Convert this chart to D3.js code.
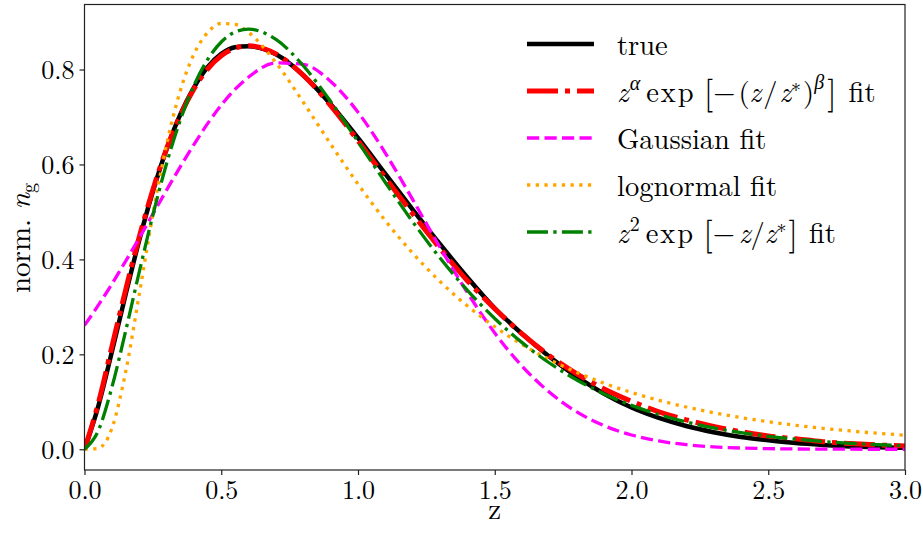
<!DOCTYPE html>
<html><head><meta charset="utf-8">
<script src="https://cdn.jsdelivr.net/npm/d3@7"></script>
<style>html,body{margin:0;padding:0;background:#fff;}</style></head>
<body><svg id="c" width="923" height="533"></svg>
<script>
// ---- data ----
const zGrid = [0,0.05,0.1,0.15,0.2,0.25,0.3,0.35,0.4,0.45,0.5,0.55,0.6,0.7,0.8,0.9,1.0,1.1,1.2,1.3,1.4,1.5,1.6,1.7,1.8,1.9,2.0,2.1,2.2,2.3,2.4,2.5,2.6,2.7,2.8,2.9,3.0];
const trueVals = [0,0.09,0.205,0.325,0.44,0.543,0.632,0.705,0.762,0.805,0.833,0.847,0.849,0.832,0.788,0.727,0.656,0.58,0.505,0.432,0.362,0.297,0.243,0.195,0.153,0.117,0.088,0.066,0.049,0.036,0.026,0.019,0.013,0.009,0.006,0.004,0.003];
const smailVals = [0,0.096,0.216,0.335,0.447,0.547,0.633,0.703,0.759,0.801,0.829,0.845,0.85,0.833,0.788,0.724,0.650,0.572,0.496,0.423,0.355,0.296,0.243,0.197,0.159,0.127,0.101,0.079,0.062,0.048,0.037,0.028,0.022,0.016,0.012,0.009,0.007];
const gaussVals = [0.261,0.303,0.348,0.396,0.445,0.4955,0.546,0.595,0.642,0.686,0.725,0.758,0.784,0.814,0.811,0.775,0.710,0.624,0.526,0.425,0.330,0.245,0.175,0.120,0.0787,0.0496,0.030,0.0174,0.0096,0.0051,0.0026,0.0013,0.0006,0.0003,0.0001,0,0];
const lognVals = [0,0.002,0.0439,0.1615,0.3259,0.4951,0.642,0.7549,0.8324,0.8778,0.897,0.8953,0.8782,0.8143,0.731,0.643,0.5586,0.4815,0.413,0.3534,0.302,0.2581,0.2207,0.1889,0.162,0.139,0.1196,0.1031,0.089,0.077,0.0668,0.058,0.0505,0.0441,0.0385,0.0337,0.0296];
const z2Vals = [0,0.0385,0.1302,0.248,0.373,0.4935,0.6016,0.693,0.7663,0.821,0.858,0.879,0.885,0.8633,0.808,0.7328,0.6481,0.562,0.4793,0.4029,0.3348,0.2755,0.2246,0.1817,0.146,0.1165,0.0925,0.0731,0.0575,0.045,0.0351,0.0273,0.0212,0.0164,0.0126,0.0097,0.0074];
const xTicks = [0,0.5,1.0,1.5,2.0,2.5,3.0];
const yTicks = [0,0.2,0.4,0.6,0.8];

const series = [
  {name:"true", vals:trueVals, color:"#000000", width:4.5, dash:null},
  {name:"smail", vals:smailVals, color:"#ff0000", width:5, dash:"31,7,5,7"},
  {name:"gauss", vals:gaussVals, color:"#ff00ff", width:3.3, dash:"12.2,5.3"},
  {name:"logn", vals:lognVals, color:"#ffa500", width:3.3, dash:"3.3,5.4"},
  {name:"z2", vals:z2Vals, color:"#008000", width:3.3, dash:"21,5.3,3.3,5.3"}
];

const FONT = '"Latin Modern Roman","CMU Serif","Liberation Serif",serif';
const svg = d3.select("#c");
const L=84.5, R=905, T=4.5, B=470;
const x = d3.scaleLinear().domain([0,3]).range([L,R]);
const y = d3.scaleLinear().domain([-0.0437,0.937]).range([B,T]);

svg.append("defs").append("clipPath").attr("id","clip")
  .append("rect").attr("x",L).attr("y",T).attr("width",R-L).attr("height",B-T);

const line = d3.line().curve(d3.curveMonotoneX);
const g = svg.append("g").attr("clip-path","url(#clip)");
series.forEach(s=>{
  const pts = zGrid.map((z,i)=>[x(z), y(s.vals[i])]);
  g.append("path").attr("d", line(pts)).attr("fill","none")
    .attr("stroke", s.color).attr("stroke-width", s.width)
    .attr("stroke-dasharray", s.dash).attr("stroke-linejoin","round");
});

// frame
svg.append("rect").attr("x",L).attr("y",T).attr("width",R-L).attr("height",B-T)
  .attr("fill","none").attr("stroke","#222").attr("stroke-width",1.2);

// axes
const xAxis = d3.axisBottom(x).tickValues(xTicks).tickFormat(d3.format(".1f")).tickSize(5).tickPadding(6);
const yAxis = d3.axisLeft(y).tickValues(yTicks).tickFormat(d3.format(".1f")).tickSize(5).tickPadding(5);
const gx = svg.append("g").attr("transform",`translate(0,${B})`).call(xAxis);
const gy = svg.append("g").attr("transform",`translate(${L},0)`).call(yAxis);
[gx,gy].forEach(a=>{
  a.attr("font-family",null).attr("font-size",null);
  a.select(".domain").remove();
  a.selectAll(".tick line").attr("stroke","#222").attr("stroke-width",1.2);
  a.selectAll(".tick text").style("font-family",FONT).style("font-size","26px").attr("fill","#000");
});
gx.selectAll(".tick text").attr("dy","0.71em");
gy.selectAll(".tick text").attr("dy","0.34em");

function T_(sel){ return sel.style("font-family",FONT).attr("fill","#000"); }

// axis labels
T_(svg.append("text")).attr("x",(L+R)/2).attr("y",519).attr("text-anchor","middle")
  .style("font-size","29px").text("z");
const yl = T_(svg.append("text")).attr("transform","translate(30,238) rotate(-90)")
  .attr("text-anchor","middle").style("font-size","29px");
yl.append("tspan").text("norm. ");
yl.append("tspan").attr("font-style","italic").text("n");
yl.append("tspan").style("font-size","20px").attr("dy",5).text("g");

// legend
const legRows = [44,91,138,185,232];
const lg = svg.append("g");
series.forEach((s,i)=>{
  lg.append("line").attr("x1",527).attr("x2",594).attr("y1",legRows[i]).attr("y2",legRows[i])
    .attr("stroke",s.color).attr("stroke-width",s.width).attr("stroke-dasharray",s.dash);
});
function txt(i){ return T_(lg.append("text")).attr("x",617).attr("y",legRows[i]+11).style("font-size","28.5px"); }
txt(0).text("true");
{
  const t = txt(1);
  t.append("tspan").attr("font-style","italic").text("z");
  t.append("tspan").attr("font-style","italic").style("font-size","20px").attr("dy",-12).attr("dx",1).text("α");
  t.append("tspan").attr("dy",12).attr("dx",6).style("letter-spacing","2px").text("exp");
  t.append("tspan").attr("dx",8).style("font-size","34px").attr("dy",2).text("[");
  t.append("tspan").attr("dy",-2).text("−");
  t.append("tspan").attr("dx",3).text("(");
  t.append("tspan").attr("font-style","italic").text("z");
  t.append("tspan").attr("dx",2).text("/");
  t.append("tspan").attr("dx",2).attr("font-style","italic").text("z");
  t.append("tspan").style("font-size","20px").attr("dy",-10).text("∗");
  t.append("tspan").attr("dy",10).attr("dx",2).text(")");
  t.append("tspan").attr("font-style","italic").style("font-size","20px").attr("dy",-13).text("β");
  t.append("tspan").attr("dx",3).style("font-size","34px").attr("dy",15).text("]");
  t.append("tspan").attr("dy",-2).attr("dx",12).text("fit");
}
txt(2).text("Gaussian fit");
txt(3).text("lognormal fit");
{
  const t = txt(4);
  t.append("tspan").attr("font-style","italic").text("z");
  t.append("tspan").style("font-size","20px").attr("dy",-12).attr("dx",1).text("2");
  t.append("tspan").attr("dy",12).attr("dx",6).style("letter-spacing","2px").text("exp");
  t.append("tspan").attr("dx",8).style("font-size","34px").attr("dy",2).text("[");
  t.append("tspan").attr("dy",-2).text("−");
  t.append("tspan").attr("dx",4).attr("font-style","italic").text("z");
  t.append("tspan").text("/");
  t.append("tspan").attr("font-style","italic").text("z");
  t.append("tspan").style("font-size","20px").attr("dy",-10).text("∗");
  t.append("tspan").attr("dx",2).style("font-size","34px").attr("dy",12).text("]");
  t.append("tspan").attr("dy",-2).attr("dx",11).text("fit");
}
</script></body></html>
